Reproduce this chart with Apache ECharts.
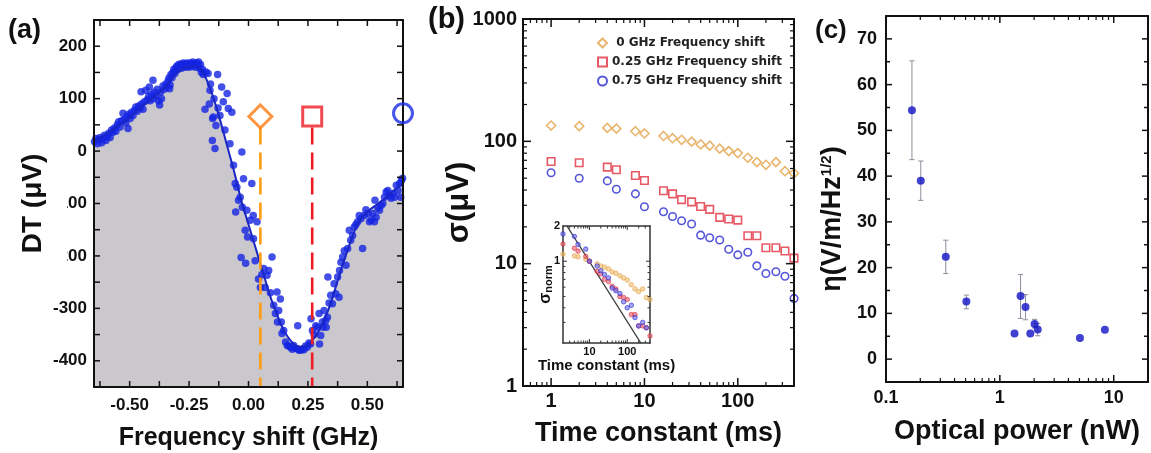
<!DOCTYPE html>
<html>
<head>
<meta charset="utf-8">
<script src="https://cdn.jsdelivr.net/npm/echarts@6/dist/echarts.min.js"></script>
<style>
  html, body { margin: 0; padding: 0; background: #fff; }
  #chart { width: 1151px; height: 453px; }
</style>
</head>
<body>
<div id="chart"></div>
<script>
// ---------- (a) transmission signal vs. frequency shift ----------
const scanShift = [
  -0.648,-0.642,-0.636,-0.630,-0.624,-0.618,-0.612,-0.606,-0.600,-0.594,-0.588,-0.582,-0.576,-0.570,-0.564,-0.558,
  -0.552,-0.546,-0.540,-0.534,-0.528,-0.522,-0.516,-0.510,-0.507,-0.504,-0.498,-0.492,-0.486,-0.480,-0.474,-0.468,
  -0.462,-0.456,-0.452,-0.450,-0.444,-0.438,-0.432,-0.426,-0.420,-0.417,-0.414,-0.408,-0.402,-0.400,-0.396,-0.390,
  -0.384,-0.378,-0.374,-0.370,-0.366,-0.360,-0.354,-0.348,-0.342,-0.338,-0.334,-0.332,-0.330,-0.326,-0.322,-0.318,
  -0.314,-0.310,-0.306,-0.302,-0.298,-0.294,-0.290,-0.286,-0.282,-0.278,-0.274,-0.270,-0.266,-0.262,-0.258,-0.254,
  -0.250,-0.246,-0.242,-0.238,-0.234,-0.230,-0.226,-0.222,-0.218,-0.214,-0.210,-0.206,-0.202,-0.198,-0.194,-0.190,
  -0.183,-0.179,-0.170,-0.165,-0.162,-0.160,-0.152,-0.151,-0.148,-0.145,-0.141,-0.137,-0.130,-0.128,-0.120,-0.113,
  -0.106,-0.099,-0.090,-0.085,-0.078,-0.070,-0.063,-0.056,-0.054,-0.049,-0.042,-0.035,-0.031,-0.028,-0.026,-0.021,
  -0.014,-0.012,-0.007,-0.004,0.007,0.014,0.020,0.021,0.028,0.036,0.042,0.050,0.056,0.064,0.070,0.078,
  0.085,0.092,0.099,0.106,0.113,0.120,0.122,0.127,0.134,0.138,0.141,0.148,0.156,0.163,0.170,0.177,
  0.184,0.190,0.198,0.205,0.207,0.212,0.219,0.226,0.233,0.240,0.247,0.254,0.261,0.263,0.269,0.276,
  0.283,0.290,0.297,0.299,0.304,0.311,0.313,0.318,0.325,0.327,0.332,0.334,0.339,0.346,0.353,0.360,
  0.367,0.375,0.381,0.383,0.389,0.396,0.403,0.410,0.417,0.424,0.430,0.438,0.445,0.452,0.459,0.466,
  0.473,0.480,0.487,0.494,0.502,0.509,0.516,0.523,0.530,0.532,0.537,0.544,0.551,0.558,0.565,0.572,
  0.579,0.586,0.593,0.600,0.608,0.614,0.622,0.629,0.636,0.640,0.643,0.648
];
const scanDT = [
  18,24,14,22,26,16,22,30,20,28,34,26,40,36,44,38,
  50,56,46,58,72,60,54,66,43,70,62,74,68,78,84,76,
  86,82,113,90,80,94,116,98,104,122,96,108,135,100,112,106,
  118,96,88,112,100,124,118,128,122,134,140,119,126,146,140,150,
  156,148,158,162,155,165,160,166,158,164,168,160,166,162,168,160,
  164,168,161,166,170,163,167,160,168,164,170,158,165,150,156,146,
  80,151,148,90,116,128,20,62,65,100,5,49,146,82,68,122,
  94,40,110,81,14,74,-27,-62,-116,-69,-94,-88,-203,-2,-107,-53,
  -151,-214,-113,-164,-132,-62,-123,-167,-209,-135,-244,-260,-236,-224,-260,-237,
  -228,-270,-202,-294,-310,-269,-326,-304,-282,-326,-348,-342,-364,-371,-372,-374,
  -378,-371,-376,-377,-333,-380,-380,-378,-379,-372,-374,-366,-368,-320,-342,-350,
  -333,-336,-310,-368,-352,-326,-336,-304,-323,-336,-317,-240,-290,-275,-291,-253,
  -272,-240,-279,-228,-212,-202,-190,-218,-186,-151,-170,-161,-145,-140,-135,-123,
  -129,-186,-123,-112,-119,-135,-132,-119,-135,-94,-126,-108,-113,-104,-100,-88,
  -78,-75,-85,-90,-81,-88,-65,-75,-62,-88,-56,-52
];
const fitShift = [-0.65,-0.60,-0.55,-0.50,-0.45,-0.40,-0.35,-0.31,-0.28,-0.25,-0.22,-0.20,-0.18,-0.15,-0.12,-0.09,-0.06,-0.03,
  0.00,0.03,0.06,0.09,0.12,0.15,0.18,0.21,0.24,0.27,0.30,0.33,0.36,0.39,0.42,0.45,0.48,0.51,0.54,0.57,0.60,0.63,0.65];
const fitDT = [18,32,48,64,85,102,122,145,157,162,162,156,140,105,60,10,-40,-95,
  -140,-185,-230,-275,-312,-343,-363,-373,-372,-360,-340,-310,-270,-225,-185,-148,-125,-112,-102,-92,-80,-68,-62];
// probe frequencies used in (b): 0 GHz, 0.25 GHz, 0.75 GHz
const probeShift = [0.05, 0.268, 0.65];
const probeDT = [66, 66, 72];
const guideTopDT = 45;
const aTickX = [-0.625,-0.5,-0.375,-0.25,-0.125,0,0.125,0.25,0.375,0.5,0.625];
const aLabelX = [-0.5,-0.25,0,0.25,0.5];
const aTickY = [-400,-350,-300,-250,-200,-150,-100,-50,0,50,100,150,200];

// ---------- (b) noise vs. time constant ----------
const tauMs = [1,2,4,5,8,10,16,20,25,32,40,50,64,80,100,128,160,200,256,320,400];
const sigma0 = [134.6,133,128.8,127,121,116,110.6,106,103,99.4,94.4,92.2,87.1,83.2,80.1,73.4,67.6,64.3,67.6,57,54.8];
const sigma025 = [68.5,66.8,61.5,58.5,52.6,47.8,39.4,37.2,33.4,32,29.3,27.8,23.9,23.2,22.7,16.9,16.9,13.5,13.5,12.7,11.1];
const sigma075 = [55.3,49.9,47.5,40.6,37.2,29.2,26.6,24.3,22.4,21.1,17.1,16.3,15.6,13.1,11.8,12.4,9.6,8.3,8.6,7.9,5.2];
const seriesNames = ['0 GHz Frequency shift', '0.25 GHz Frequency shift', '0.75 GHz Frequency shift'];
const bLabelX = [1, 10, 100];
const bLabelY = [1, 10, 100, 1000];
const bMajorX = [1, 10, 100];
const bMajorY = [10, 100];
const bMinorX = [0.6,0.7,0.8,0.9,2,3,4,5,6,7,8,9,20,30,40,50,60,70,80,90,200,300];
const bMinorY = [2,3,4,5,6,7,8,9,20,30,40,50,60,70,80,90,200,300,400,500,600,700,800,900];

// inset: noise normalised to its 10 ms value
const insetTau = [2,4,5,8,10,16,20,25,32,40,50,64,80,100,128,160,200,256,320,400];
const norm0 = [1.15,1.11,1.09,1.04,1.00,0.95,0.91,0.89,0.86,0.81,0.79,0.75,0.72,0.69,0.63,0.58,0.55,0.58,0.49,0.47];
const norm025 = [1.40,1.29,1.22,1.10,1.00,0.82,0.78,0.70,0.67,0.61,0.58,0.50,0.49,0.47,0.35,0.35,0.28,0.28,0.27,0.23];
const norm075 = [1.71,1.63,1.39,1.27,1.00,0.91,0.83,0.77,0.72,0.59,0.56,0.53,0.45,0.40,0.42,0.33,0.28,0.30,0.27,0.18];
const whiteLimitTau = [2.55, 228];
const whiteLimitNorm = [2.0, 0.2];
const insetLabelX = [10, 100];
const insetLabelY = [1, 2];
const insetMajorX = [10, 100];
const insetMajorY = [1];
const insetMinorX = [3,4,5,6,7,8,9,20,30,40,50,60,70,80,90,200,300];
const insetMinorY = [0.3,0.4,0.5,0.6,0.7,0.8,0.9];

// ---------- (c) sensitivity vs. optical power ----------
const powerNW = [0.169,0.202,0.335,0.508,1.345,1.52,1.68,1.85,2.02,2.15,5.05,8.36];
const eta = [54.4,39.0,22.4,12.6,5.6,13.8,11.4,5.6,7.7,6.5,4.6,6.4];
const etaLow = [43.6,34.7,18.7,11.0,null,8.9,8.6,null,6.8,5.1,null,null];
const etaHigh = [65.2,43.3,26.0,14.0,null,18.5,14.1,null,8.7,7.8,null,null];
const cLabelX = [0.1, 1, 10];
const cMajorX = [1, 10];
const cMinorX = [0.2,0.3,0.4,0.5,0.6,0.7,0.8,0.9,2,3,4,5,6,7,8,9];
const cMajorY = [0,10,20,30,40,50,60,70];
const cMinorY = [5,15,25,35,45,55,65];

// ---------- styling ----------
const INK = '#111';
const INSET_INK = '#333';
const FONT = 'Liberation Sans, Arial, Helvetica, sans-serif';

function clean(o) {
  Object.keys(o).forEach(k => { if (o[k] === undefined) delete o[k]; });
  return o;
}
function pickLabel(list) {
  return v => {
    const hit = list.find(t => Math.abs(t - v) <= Math.abs(t) * 1e-6 + 1e-12);
    return hit === undefined ? '' : String(hit);
  };
}
// one edge of a panel frame; the inward tick marks are added after layout
function axis(o) {
  const a = clean({
    gridIndex: o.grid,
    type: o.type || 'value',
    position: o.pos,
    min: o.min,
    max: o.max,
    interval: o.interval,
    axisLine: { show: true, onZero: false, lineStyle: { color: o.lineColor || INK, width: o.lineWidth || 2 } },
    splitLine: { show: false },
    axisTick: { show: false },
    axisLabel: o.label
      ? Object.assign({ show: true, color: INK, fontFamily: FONT, fontWeight: 'bold' }, o.label)
      : { show: false },
    name: o.name,
    nameLocation: o.name ? 'middle' : undefined,
    nameGap: o.nameGap,
    nameMoveOverlap: o.name ? false : undefined,
    nameTextStyle: o.nameStyle,
    z: 5
  });
  if (a.type === 'log') a.logBase = 10;
  return a;
}
function nameStyle(size, extra) {
  return Object.assign({ color: INK, fontFamily: FONT, fontWeight: 'bold', fontSize: size }, extra || {});
}
const IN = { lineColor: INSET_INK, lineWidth: 1.5 };

const xAxes = [
  // (a)
  axis({ grid: 0, pos: 'bottom', min: -0.65, max: 0.65,
    label: { customValues: aLabelX, formatter: v => v.toFixed(2), fontSize: 17, margin: 10 },
    name: 'Frequency shift (GHz)', nameGap: 39, nameStyle: nameStyle(25) }),
  axis({ grid: 0, pos: 'top', min: -0.65, max: 0.65 }),
  // (b)
  axis({ grid: 1, type: 'log', pos: 'bottom', min: 0.5, max: 400,
    label: { formatter: pickLabel(bLabelX), fontSize: 20, margin: 5 },
    name: 'Time constant (ms)', nameGap: 34, nameStyle: nameStyle(27) }),
  axis({ grid: 1, type: 'log', pos: 'top', min: 0.5, max: 400 }),
  // inset
  axis(Object.assign({ grid: 2, type: 'log', pos: 'bottom', min: 2, max: 400,
    label: { formatter: pickLabel(insetLabelX), fontSize: 11, margin: 3 },
    name: 'Time constant (ms)', nameGap: 15, nameStyle: nameStyle(15) }, IN)),
  axis(Object.assign({ grid: 2, type: 'log', pos: 'top', min: 2, max: 400 }, IN)),
  // (c)
  axis({ grid: 3, type: 'log', pos: 'bottom', min: 0.1, max: 20,
    label: { formatter: pickLabel(cLabelX), fontSize: 18, margin: 7 },
    name: 'Optical power (nW)', nameGap: 36, nameStyle: nameStyle(27) }),
  axis({ grid: 3, type: 'log', pos: 'top', min: 0.1, max: 20 })
];

const yAxes = [
  // (a)
  axis({ grid: 0, pos: 'left', min: -450, max: 250, interval: 50,
    label: { formatter: v => (v % 100 === 0 ? String(v) : ''), fontSize: 17, margin: 7 },
    name: 'DT (\u03bcV)', nameGap: 47, nameStyle: nameStyle(28) }),
  axis({ grid: 0, pos: 'right', min: -450, max: 250, interval: 50 }),
  // (b)
  axis({ grid: 1, type: 'log', pos: 'left', min: 1, max: 1000,
    label: { formatter: pickLabel(bLabelY), fontSize: 20, margin: 6 },
    name: '\u03c3(\u03bcV)', nameGap: 48, nameStyle: nameStyle(31) }),
  axis({ grid: 1, type: 'log', pos: 'right', min: 1, max: 1000 }),
  // inset
  axis(Object.assign({ grid: 2, type: 'log', pos: 'left', min: 0.2, max: 2,
    label: { formatter: pickLabel(insetLabelY), fontSize: 11, margin: 3 },
    name: '{s|\u03c3}{n|norm}', nameGap: 9,
    nameStyle: nameStyle(15, { rich: {
      s: { fontSize: 16, fontFamily: FONT, color: INK, verticalAlign: 'top' },
      n: { fontSize: 11, fontFamily: FONT, color: INK, verticalAlign: 'bottom' } } }) }, IN)),
  axis(Object.assign({ grid: 2, type: 'log', pos: 'right', min: 0.2, max: 2 }, IN)),
  // (c)
  axis({ grid: 3, pos: 'left', min: -5, max: 75, interval: 5,
    label: { formatter: v => (v % 10 === 0 && v >= 0 ? String(v) : ''), fontSize: 18, margin: 9 },
    name: '{t|\u03b7(V/m/Hz}{s|1/2}{t|)}', nameGap: 40,
    nameStyle: nameStyle(27, { padding: [0, 40, 0, 0], rich: {
      t: { fontSize: 27, fontFamily: FONT, fontWeight: 'bold', color: INK },
      s: { fontSize: 15, fontFamily: FONT, fontWeight: 'bold', color: INK, verticalAlign: 'top' } } }) }),
  axis({ grid: 3, pos: 'right', min: -5, max: 75, interval: 5 })
];

const zip = (xs, ys) => xs.map((x, i) => [x, ys[i]]);

const bStyles = [
  { symbol: 'diamond', size: 9, color: '#e3a24a' },
  { symbol: 'rect', size: 7.5, color: '#e0303e' },
  { symbol: 'circle', size: 7.5, color: '#2a2ad2' }
];
const bData = [sigma0, sigma025, sigma075];
const insetData = [norm0, norm025, norm075];
const insetFill = ['rgba(240,190,110,0.75)', 'rgba(232,90,105,0.75)', 'rgba(105,105,232,0.75)'];

const series = [
  // (a) filled region under the fitted curve
  { type: 'line', xAxisIndex: 0, yAxisIndex: 0, data: zip(fitShift, fitDT), smooth: 0.3,
    showSymbol: false, lineStyle: { width: 0, opacity: 0 },
    areaStyle: { color: '#cbc8cd', opacity: 1, origin: 'start' }, z: 1, silent: true },
  { type: 'scatter', xAxisIndex: 0, yAxisIndex: 0, data: zip(scanShift, scanDT),
    symbolSize: 7.5, itemStyle: { color: '#1424e2' }, z: 2 },
  { type: 'line', xAxisIndex: 0, yAxisIndex: 0, data: zip(fitShift, fitDT), smooth: 0.3,
    showSymbol: false, lineStyle: { color: '#1a26c4', width: 2 }, z: 3 },
  { type: 'line', xAxisIndex: 0, yAxisIndex: 0,
    data: [[probeShift[0], guideTopDT], [probeShift[0], -450]], showSymbol: false,
    lineStyle: { color: '#ff9c12', width: 2.6, type: [17, 8] }, z: 4 },
  { type: 'line', xAxisIndex: 0, yAxisIndex: 0,
    data: [[probeShift[1], guideTopDT], [probeShift[1], -450]], showSymbol: false,
    lineStyle: { color: '#ee1c24', width: 2.6, type: [17, 8] }, z: 4 },
  { type: 'scatter', xAxisIndex: 0, yAxisIndex: 0, clip: false, z: 6,
    data: [
      { value: [probeShift[0], probeDT[0]], symbol: 'diamond', symbolSize: 23,
        itemStyle: { color: 'rgba(255,255,255,0)', borderColor: '#ff7a10', borderWidth: 3 } },
      { value: [probeShift[1], probeDT[1]], symbol: 'rect', symbolSize: 19,
        itemStyle: { color: 'rgba(255,255,255,0)', borderColor: '#ee1c24', borderWidth: 3 } },
      { value: [probeShift[2], probeDT[2]], symbol: 'circle', symbolSize: 19,
        itemStyle: { color: 'rgba(255,255,255,0)', borderColor: '#1a2ae6', borderWidth: 3 } }
    ] }
];

// (b) main markers
bStyles.forEach((s, i) => {
  series.push({
    type: 'scatter', name: seriesNames[i], xAxisIndex: 2, yAxisIndex: 2,
    data: zip(tauMs, bData[i]), symbol: s.symbol, symbolSize: s.size,
    itemStyle: { color: '#fff', borderColor: s.color, borderWidth: 1.6 }, z: 3
  });
});
// inset: slope -1/2 guide, then normalised points
series.push({
  type: 'line', xAxisIndex: 4, yAxisIndex: 4, data: zip(whiteLimitTau, whiteLimitNorm),
  showSymbol: false, lineStyle: { color: '#3c3c3c', width: 1.4 }, z: 4
});
bStyles.forEach((s, i) => {
  series.push({
    type: 'scatter', xAxisIndex: 4, yAxisIndex: 4, data: zip(insetTau, insetData[i]),
    symbol: 'circle', symbolSize: 4.5,
    itemStyle: { color: insetFill[i], borderColor: s.color, borderWidth: 0.8 }, z: 5
  });
});

// (c) error bars and points
const errRows = powerNW.map((p, i) => [p, eta[i], etaLow[i], etaHigh[i]]).filter(r => r[2] !== null);
series.push({
  type: 'custom', xAxisIndex: 6, yAxisIndex: 6, data: errRows, z: 2,
  encode: { x: 0, y: [1, 2, 3] },
  renderItem: (params, api) => {
    const x = api.value(0);
    const top = api.coord([x, api.value(3)]);
    const bot = api.coord([x, api.value(2)]);
    const cap = 2.6;
    const st = { stroke: '#8e8e9c', lineWidth: 1 };
    return { type: 'group', children: [
      { type: 'line', shape: { x1: top[0], y1: top[1], x2: bot[0], y2: bot[1] }, style: st },
      { type: 'line', shape: { x1: top[0] - cap, y1: top[1], x2: top[0] + cap, y2: top[1] }, style: st },
      { type: 'line', shape: { x1: bot[0] - cap, y1: bot[1], x2: bot[0] + cap, y2: bot[1] }, style: st }
    ] };
  }
});
series.push({
  type: 'scatter', xAxisIndex: 6, yAxisIndex: 6, data: zip(powerNW, eta),
  symbolSize: 8, itemStyle: { color: '#1212c6' }, z: 3
});

const gridBase = { show: false, containLabel: false, outerBoundsMode: 'none' };

const panelLabels = [
  { type: 'text', left: 8, top: 17, style: { text: '(a)', font: 'bold 27px ' + FONT, fill: INK } },
  { type: 'text', left: 428, top: 5, style: { text: '(b)', font: 'bold 29px ' + FONT, fill: INK } },
  { type: 'text', left: 815, top: 18, style: { text: '(c)', font: 'bold 26px ' + FONT, fill: INK } },
  // the axis title's white backing clips the leading glyphs of two tick labels
  { type: 'rect', shape: { x: 46, y: 188, width: 21, height: 76 }, style: { fill: '#fff' }, z: 100 }
];

const option = {
  animation: false,
  backgroundColor: '#fff',
  grid: [
    Object.assign({}, gridBase, { left: 94, top: 20, width: 309, height: 367 }),
    Object.assign({}, gridBase, { left: 523, top: 19, width: 271, height: 367 }),
    Object.assign({}, gridBase, { left: 563, top: 226, width: 87, height: 117, show: true, borderWidth: 0, backgroundColor: '#fff', z: 3 }),
    Object.assign({}, gridBase, { left: 886, top: 16, width: 262, height: 366 })
  ],
  xAxis: xAxes,
  yAxis: yAxes,
  legend: {
    data: seriesNames,
    orient: 'vertical', left: 592, top: 31,
    itemWidth: 9, itemHeight: 9, itemGap: 5,
    formatter: n => (n === seriesNames[0] ? ' ' + n : n),
    textStyle: { fontFamily: 'DejaVu Sans, sans-serif', fontWeight: 'bold', fontSize: 12, color: '#222', lineHeight: 14 }
  },
  series: series
};

const chart = echarts.init(document.getElementById('chart'), null, { renderer: 'canvas' });
chart.setOption(option);

// inward tick marks on all four sides of each panel, positioned through the panel's axes;
// each mark is a thin filled bar
const tickPanels = [
  { xi: 0, yi: 0, x: [-0.65, 0.65], y: [-450, 250], color: INK, marks: [
    { dir: 'x', values: aTickX, len: 6, width: 1.5 },
    { dir: 'y', values: aTickY, len: 6, width: 1.5 } ] },
  { xi: 2, yi: 2, x: [0.5, 400], y: [1, 1000], color: INK, marks: [
    { dir: 'x', values: bMajorX, len: 8, width: 1.5 },
    { dir: 'x', values: bMinorX, len: 4, width: 1.2 },
    { dir: 'y', values: bMajorY, len: 8, width: 1.5 },
    { dir: 'y', values: bMinorY, len: 4, width: 1.2 } ] },
  { xi: 4, yi: 4, x: [2, 400], y: [0.2, 2], color: INSET_INK, marks: [
    { dir: 'x', values: insetMajorX, len: 4, width: 1 },
    { dir: 'x', values: insetMinorX, len: 2.5, width: 1 },
    { dir: 'y', values: insetMajorY, len: 4, width: 1 },
    { dir: 'y', values: insetMinorY, len: 2.5, width: 1 } ] },
  { xi: 6, yi: 6, x: [0.1, 20], y: [-5, 75], color: INK, marks: [
    { dir: 'x', values: cMajorX, len: 7, width: 1.5 },
    { dir: 'x', values: cMinorX, len: 4, width: 1.2 },
    { dir: 'y', values: cMajorY, len: 6, width: 1.5 },
    { dir: 'y', values: cMinorY, len: 4, width: 1.5 } ] }
];
const tickMarks = [];
function bar(x, y, w, h, color) {
  tickMarks.push({ type: 'rect', silent: true, z: 60, shape: { x: x, y: y, width: w, height: h }, style: { fill: color } });
}
tickPanels.forEach(p => {
  const toX = v => +chart.convertToPixel({ xAxisIndex: p.xi }, v);
  const toY = v => +chart.convertToPixel({ yAxisIndex: p.yi }, v);
  const left = toX(p.x[0]), right = toX(p.x[1]);
  const bottom = toY(p.y[0]), top = toY(p.y[1]);
  p.marks.forEach(m => {
    const hw = m.width / 2;
    m.values.forEach(v => {
      if (m.dir === 'x') {
        const px = toX(v);
        bar(px - hw, bottom - m.len, m.width, m.len, p.color);
        bar(px - hw, top, m.width, m.len, p.color);
      } else {
        const py = toY(v);
        bar(left, py - hw, m.len, m.width, p.color);
        bar(right - m.len, py - hw, m.len, m.width, p.color);
      }
    });
  });
});
chart.setOption({ graphic: panelLabels.concat(tickMarks) });
</script>
</body>
</html>
